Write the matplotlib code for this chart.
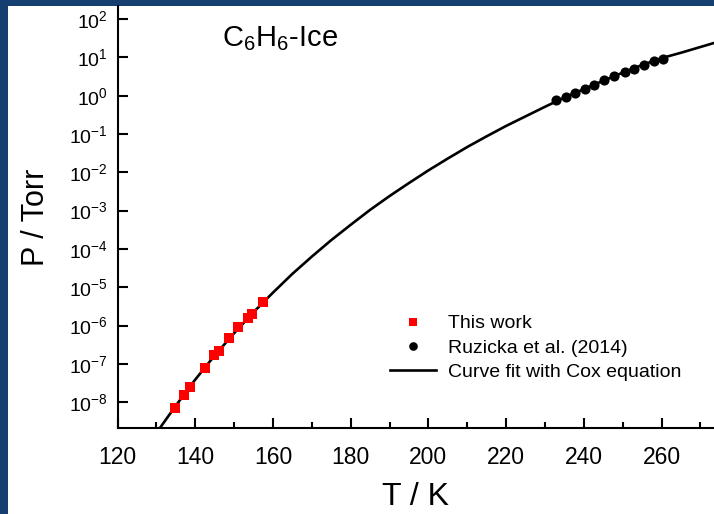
import numpy as np
import matplotlib
matplotlib.use("Agg")
import matplotlib.pyplot as plt
from matplotlib.patches import Rectangle
from matplotlib.ticker import FixedLocator, MultipleLocator, NullLocator

plt.rcParams['font.family'] = ['Liberation Sans', 'DejaVu Sans']
plt.rcParams['mathtext.default'] = 'regular'

# ---- data ----
this_work_T = [134.7, 137.0, 138.7, 142.5, 144.8, 146.1, 148.8, 151.1, 153.5, 154.5, 157.5]
this_work_logP = [-8.16, -7.81, -7.61, -7.11, -6.78, -6.66, -6.33, -6.04, -5.81, -5.69, -5.38]

ruzicka_T = [232.9, 235.3, 237.8, 240.3, 242.7, 245.2, 247.8, 250.5, 253.0, 255.6, 258.0, 260.5]
ruzicka_logP = [-0.12, -0.03, 0.08, 0.18, 0.29, 0.40, 0.51, 0.61, 0.70, 0.80, 0.90, 0.97]

fit_T = [131, 135, 140, 145, 150, 155, 160, 165, 170, 175, 180, 185, 190, 195, 200, 205,
         210, 215, 220, 225, 230, 235, 240, 245, 250, 255, 260, 265, 270, 274]
fit_logP = [-8.66, -8.09, -7.41, -6.78, -6.20, -5.65, -5.14, -4.65, -4.20, -3.77, -3.37,
            -2.98, -2.62, -2.28, -1.95, -1.64, -1.34, -1.06, -0.79, -0.54, -0.29, -0.05,
            0.17, 0.39, 0.60, 0.80, 0.98, 1.12, 1.27, 1.39]

ytick_exp = [-8, -7, -6, -5, -4, -3, -2, -1, 0, 1, 2]
xtick_vals = [120, 140, 160, 180, 200, 220, 240, 260]

W, H = 714, 514
fig = plt.figure(figsize=(W / 100, H / 100), dpi=100)
fig.patch.set_facecolor('#153f70')

bg = fig.add_axes([0, 0, 1, 1], zorder=-10)
bg.set_xlim(0, W)
bg.set_ylim(0, H)
bg.axis('off')
bg.add_patch(Rectangle((8, 0), W - 8, H - 6, facecolor='white', edgecolor='none'))

left = 117.5 / W
bottom = (H - 428.3) / H
top = (H - 6) / H
ax = fig.add_axes([left, bottom, 1 - left, top - bottom], zorder=1)
ax.set_facecolor('none')

ax.plot(fit_T, 10 ** np.array(fit_logP), color='black', lw=1.9, zorder=2,
        solid_joinstyle='round', label='Curve fit with Cox equation')
ax.plot(this_work_T, 10 ** np.array(this_work_logP), 's', color='#ff0000', ms=7, mew=0,
        zorder=3, label='This work')
ax.plot(ruzicka_T, 10 ** np.array(ruzicka_logP), 'o', color='black', ms=7.3, mew=0,
        zorder=3, label='Ruzicka et al. (2014)')

ax.set_yscale('log')
ax.set_xlim(120, 273.5)
ax.set_ylim(10 ** -8.68, 10 ** 2.34)

ax.yaxis.set_major_locator(FixedLocator([10.0 ** e for e in ytick_exp]))
ax.set_yticklabels(['10$^{%d}$' % e for e in ytick_exp])
ax.yaxis.set_minor_locator(NullLocator())
ax.xaxis.set_major_locator(FixedLocator(xtick_vals))
ax.set_xticklabels([str(v) for v in xtick_vals])
ax.xaxis.set_minor_locator(MultipleLocator(10))

for s in ['top', 'right']:
    ax.spines[s].set_visible(False)
for s in ['left', 'bottom']:
    ax.spines[s].set_linewidth(1.5)

ax.tick_params(axis='x', which='major', direction='in', length=7, width=1.5,
               labelsize=16.5, pad=13)
ax.tick_params(axis='x', which='minor', direction='in', length=4, width=1.5)
ax.tick_params(axis='y', which='major', direction='in', length=7, width=1.5,
               labelsize=14, pad=7)

ax.set_xlabel('T / K', fontsize=23, labelpad=9)
ax.set_ylabel('P / Torr', fontsize=22, labelpad=13)

ax.text(222 / W, (H - 46) / H, 'C$_6$H$_6$-Ice', transform=fig.transFigure,
        fontsize=21, ha='left', va='baseline')

handles, labels = ax.get_legend_handles_labels()
order = [1, 2, 0]
leg = ax.legend([handles[i] for i in order], [labels[i] for i in order],
                loc='upper left', bbox_to_anchor=(380 / W, (H - 305) / H),
                bbox_transform=fig.transFigure, frameon=False, fontsize=14,
                handlelength=2.4, handletextpad=0.6, labelspacing=0.35,
                markerscale=0.85, borderpad=0)

fig.savefig('out.png', dpi=100, facecolor=fig.get_facecolor())
